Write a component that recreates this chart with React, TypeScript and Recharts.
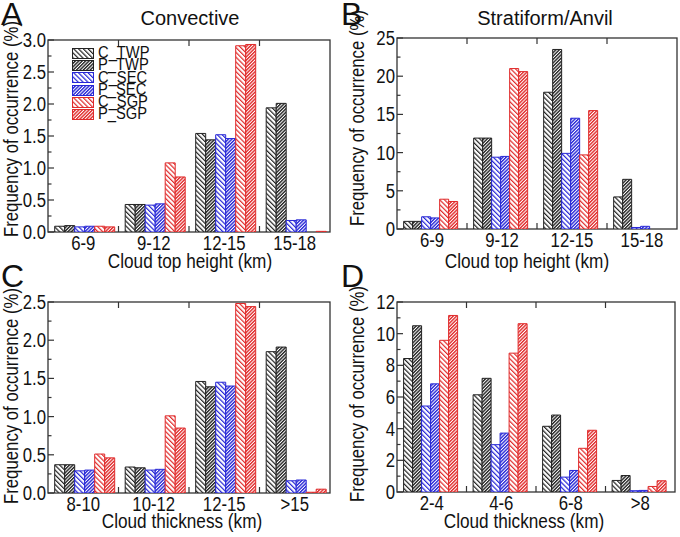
import React from "react";
import * as R from "recharts";

const { BarChart, Bar, XAxis, YAxis } = R;

// series
const seriesNames = ["C_TWP", "P_TWP", "C_SEC", "P_SEC", "C_SGP", "P_SGP"];
const seriesColors = ["#222222", "#222222", "#2626d6", "#2626d6", "#e02a2a", "#e02a2a"];
const seriesDense = [false, true, false, true, false, true];

// A: convective, cloud top height
const topHeightCats = ["6-9", "9-12", "12-15", "15-18"];
const convTopC_TWP = [0.09, 0.43, 1.54, 1.94];
const convTopP_TWP = [0.1, 0.43, 1.44, 2.01];
const convTopC_SEC = [0.08, 0.42, 1.52, 0.18];
const convTopP_SEC = [0.09, 0.44, 1.46, 0.19];
const convTopC_SGP = [0.09, 1.08, 2.91, 0];
const convTopP_SGP = [0.08, 0.86, 2.93, 0.01];
const convTopMajor = [0, 0.5, 1, 1.5, 2, 2.5, 3];
const convTopMinor = [0.25, 0.75, 1.25, 1.75, 2.25, 2.75];

// B: stratiform/anvil, cloud top height
const stratTopC_TWP = [1.0, 11.9, 17.9, 4.2];
const stratTopP_TWP = [1.0, 11.9, 23.5, 6.5];
const stratTopC_SEC = [1.6, 9.4, 9.9, 0.2];
const stratTopP_SEC = [1.45, 9.5, 14.5, 0.35];
const stratTopC_SGP = [3.9, 21.0, 9.7, 0];
const stratTopP_SGP = [3.6, 20.6, 15.5, 0];
const stratTopMajor = [0, 5, 10, 15, 20, 25];
const stratTopMinor = [2.5, 7.5, 12.5, 17.5, 22.5];

// C: convective, cloud thickness
const convThickCats = ["8-10", "10-12", "12-15", ">15"];
const convThickC_TWP = [0.37, 0.34, 1.46, 1.85];
const convThickP_TWP = [0.37, 0.33, 1.39, 1.91];
const convThickC_SEC = [0.29, 0.3, 1.45, 0.16];
const convThickP_SEC = [0.3, 0.31, 1.4, 0.17];
const convThickC_SGP = [0.51, 1.01, 2.48, 0.01];
const convThickP_SGP = [0.46, 0.85, 2.44, 0.05];
const convThickMajor = [0, 0.5, 1, 1.5, 2, 2.5];
const convThickMinor = [0.25, 0.75, 1.25, 1.75, 2.25];

// D: stratiform/anvil, cloud thickness
const stratThickCats = ["2-4", "4-6", "6-8", ">8"];
const stratThickC_TWP = [8.43, 6.14, 4.15, 0.73];
const stratThickP_TWP = [10.5, 7.18, 4.86, 1.04];
const stratThickC_SEC = [5.43, 2.99, 0.94, 0.08];
const stratThickP_SEC = [6.83, 3.72, 1.36, 0.1];
const stratThickC_SGP = [9.58, 8.77, 2.76, 0.35];
const stratThickP_SGP = [11.15, 10.63, 3.9, 0.71];
const stratThickMajor = [0, 2, 4, 6, 8, 10, 12];
const stratThickMinor = [1, 3, 5, 7, 9, 11];

const FONT = "'Liberation Sans', Arial, sans-serif";
const AXIS = "#333";
const SQUEEZE = 0.86; // condensed look of the original typeface

const buildRows = (cats: string[], cols: number[][]) =>
  cats.map((cat, i) => {
    const row: any = { cat };
    seriesNames.forEach((s, j) => (row[s] = cols[j][i]));
    return row;
  });

const usePA = (R as any).usePlotArea;

function Frame({ n, fallback }: { n: number; fallback: any }) {
  const pa = usePA ? usePA() : null;
  const a = pa && pa.width ? pa : fallback;
  const marks: any[] = [];
  for (let k = 1; k < n; k++) {
    const x = a.x + (a.width * k) / n;
    marks.push(<line key={"b" + k} x1={x} x2={x} y1={a.y + a.height} y2={a.y + a.height - 6} stroke={AXIS} strokeWidth={1.2} />);
    marks.push(<line key={"t" + k} x1={x} x2={x} y1={a.y} y2={a.y + 6} stroke={AXIS} strokeWidth={1.2} />);
  }
  return (
    <g>
      <rect x={a.x} y={a.y} width={a.width} height={a.height} fill="none" stroke={AXIS} strokeWidth={1.3} />
      {marks}
    </g>
  );
}

function Patterns() {
  return (
    <svg width={0} height={0} style={{ position: "absolute" }}>
      <defs>
        {seriesNames.map((s, i) =>
          seriesDense[i] ? (
            <pattern key={s} id={"hatch-" + s} patternUnits="userSpaceOnUse" width={2.4} height={2.4} patternTransform="rotate(45)">
              <rect width={2.4} height={2.4} fill="#fff" />
              <rect width={1.4} height={2.4} fill={seriesColors[i]} />
            </pattern>
          ) : (
            <pattern key={s} id={"hatch-" + s} patternUnits="userSpaceOnUse" width={3.4} height={3.4} patternTransform="rotate(-45)">
              <rect width={3.4} height={3.4} fill="#fff" />
              <rect width={1.2} height={3.4} fill={seriesColors[i]} />
            </pattern>
          )
        )}
      </defs>
    </svg>
  );
}

interface PanelProps {
  left: number;
  top: number;
  width: number;
  height: number;
  margin: { top: number; right: number; bottom: number; left: number };
  yWidth: number;
  cats: string[];
  cols: number[][];
  major: number[];
  minor: number[];
  decimals: number;
}

function Panel({ left, top, width, height, margin, yWidth, cats, cols, major, minor, decimals }: PanelProps) {
  const data = buildRows(cats, cols);
  const yMax = major[major.length - 1];
  const ticks = [...major, ...minor].sort((a, b) => a - b);
  const isMajor = (v: number) => major.includes(v);
  const xAxisH = 30;
  const fallback = {
    x: margin.left + yWidth,
    y: margin.top,
    width: width - margin.left - margin.right - yWidth,
    height: height - margin.top - margin.bottom - xAxisH,
  };

  const LeftTick = (p: any) => {
    const v = p.payload.value;
    const len = isMajor(v) ? 6 : 3.5;
    return (
      <g>
        <line x1={p.x} x2={p.x + len} y1={p.y} y2={p.y} stroke={AXIS} strokeWidth={1.2} />
        {isMajor(v) && (
          <text
            transform={`translate(${p.x - 2},${p.y}) scale(${SQUEEZE},1)`}
            dy="0.36em"
            textAnchor="end"
            fontSize={19.5}
            fontFamily={FONT}
            fill="#111"
          >
            {v.toFixed(decimals)}
          </text>
        )}
      </g>
    );
  };
  const RightTick = (p: any) => {
    const v = p.payload.value;
    const len = isMajor(v) ? 6 : 3.5;
    return <line x1={p.x} x2={p.x - len} y1={p.y} y2={p.y} stroke={AXIS} strokeWidth={1.2} />;
  };
  const BottomTick = (p: any) => (
    <text
      transform={`translate(${p.x},${p.y + 18}) scale(${SQUEEZE},1)`}
      textAnchor="middle"
      fontSize={19.5}
      fontFamily={FONT}
      fill="#111"
    >
      {p.payload.value}
    </text>
  );

  return (
    <div style={{ position: "absolute", left, top, width, height }}>
      <BarChart width={width} height={height} data={data} margin={margin} barCategoryGap="9.5%" barGap={0}>
        <XAxis dataKey="cat" interval={0} height={xAxisH} axisLine={false} tickLine={false} tickSize={0} tickMargin={0} tick={BottomTick} />
        <YAxis
          type="number"
          domain={[0, yMax]}
          ticks={ticks}
          interval={0}
          width={yWidth}
          axisLine={false}
          tickLine={false}
          tickSize={0}
          tickMargin={0}
          tick={LeftTick}
          allowDataOverflow
        />
        <YAxis
          yAxisId="r"
          orientation="right"
          mirror
          width={0}
          type="number"
          domain={[0, yMax]}
          ticks={ticks}
          interval={0}
          axisLine={false}
          tickLine={false}
          tickSize={0}
          tickMargin={0}
          tick={RightTick}
          allowDataOverflow
        />
        {seriesNames.map((s, i) => (
          <Bar key={s} dataKey={s} fill={`url(#hatch-${s})`} stroke={seriesColors[i]} strokeWidth={1} isAnimationActive={false} />
        ))}
        <Frame n={cats.length} fallback={fallback} />
      </BarChart>
    </div>
  );
}

function LegendBox() {
  return (
    <div style={{ position: "absolute", left: 72, top: 47, fontFamily: FONT, fontSize: 16, lineHeight: "12.3px", color: "#111" }}>
      {seriesNames.map((s, i) => (
        <div key={s} style={{ display: "flex", alignItems: "center", height: 12.3 }}>
          <svg width={22} height={11} style={{ marginRight: 4, flexShrink: 0 }}>
            <rect x={0.5} y={0.5} width={21} height={10} fill={`url(#hatch-${s})`} stroke={seriesColors[i]} strokeWidth={1} />
          </svg>
          <span style={{ display: "inline-block", transform: "scaleX(0.92)", transformOrigin: "left center" }}>{s}</span>
        </div>
      ))}
    </div>
  );
}

function Labels() {
  const t = { fontFamily: FONT, fill: "#111" } as any;
  const yLab = "Frequency of occurrence (%)";
  const xt = (x: number, y: number, s: string) => (
    <text transform={`translate(${x},${y}) scale(${SQUEEZE},1)`} fontSize={20} textAnchor="middle" {...t}>
      {s}
    </text>
  );
  const yt = (x: number, y: number) => (
    <text transform={`translate(${x},${y}) rotate(-90) scale(${SQUEEZE},1)`} fontSize={19.5} textAnchor="middle" {...t}>
      {yLab}
    </text>
  );
  return (
    <svg width={680} height={537} style={{ position: "absolute", left: 0, top: 0, pointerEvents: "none" }}>
      <text x={1} y={25} fontSize={32} {...t}>A</text>
      <text x={341} y={25} fontSize={32} {...t}>B</text>
      <text x={1} y={287} fontSize={32} {...t}>C</text>
      <text x={341} y={287} fontSize={32} {...t}>D</text>
      <text x={190} y={25} fontSize={20} textAnchor="middle" {...t}>Convective</text>
      <text x={545} y={25} fontSize={20} textAnchor="middle" {...t}>Stratiform/Anvil</text>
      {xt(190, 268, "Cloud top height (km)")}
      {xt(527, 268, "Cloud top height (km)")}
      {xt(182, 528, "Cloud thickness (km)")}
      {xt(524, 528, "Cloud thickness (km)")}
      {yt(18, 129)}
      {yt(364, 118)}
      {yt(18, 396)}
      {yt(364, 394)}
    </svg>
  );
}

export default function App() {
  return (
    <div style={{ position: "absolute", left: 0, top: 0, width: 680, height: 537, background: "#fff", overflow: "hidden" }}>
      <Patterns />
      <Panel
        left={0}
        top={0}
        width={340}
        height={270}
        margin={{ top: 40, right: 10, bottom: 8, left: 0 }}
        yWidth={48}
        cats={topHeightCats}
        cols={[convTopC_TWP, convTopP_TWP, convTopC_SEC, convTopP_SEC, convTopC_SGP, convTopP_SGP]}
        major={convTopMajor}
        minor={convTopMinor}
        decimals={1}
      />
      <Panel
        left={340}
        top={0}
        width={340}
        height={270}
        margin={{ top: 38, right: 3, bottom: 11, left: 0 }}
        yWidth={57}
        cats={topHeightCats}
        cols={[stratTopC_TWP, stratTopP_TWP, stratTopC_SEC, stratTopP_SEC, stratTopC_SGP, stratTopP_SGP]}
        major={stratTopMajor}
        minor={stratTopMinor}
        decimals={0}
      />
      <Panel
        left={0}
        top={262}
        width={340}
        height={275}
        margin={{ top: 40, right: 10, bottom: 14, left: 0 }}
        yWidth={48}
        cats={convThickCats}
        cols={[convThickC_TWP, convThickP_TWP, convThickC_SEC, convThickP_SEC, convThickC_SGP, convThickP_SGP]}
        major={convThickMajor}
        minor={convThickMinor}
        decimals={1}
      />
      <Panel
        left={340}
        top={262}
        width={340}
        height={275}
        margin={{ top: 40, right: 5, bottom: 15, left: 0 }}
        yWidth={57}
        cats={stratThickCats}
        cols={[stratThickC_TWP, stratThickP_TWP, stratThickC_SEC, stratThickP_SEC, stratThickC_SGP, stratThickP_SGP]}
        major={stratThickMajor}
        minor={stratThickMinor}
        decimals={0}
      />
      <LegendBox />
      <Labels />
    </div>
  );
}
